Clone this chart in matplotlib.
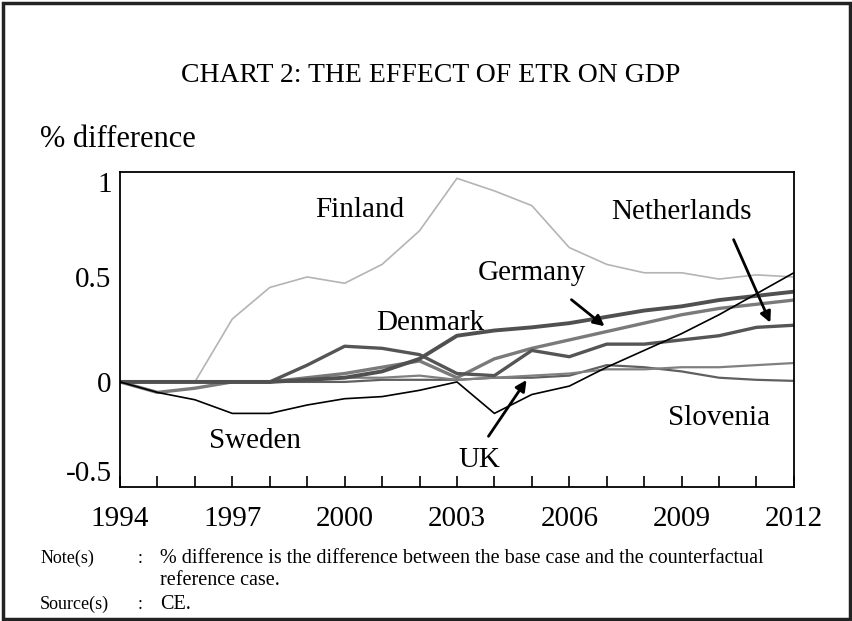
import numpy as np
import matplotlib
matplotlib.use("Agg")
import matplotlib.pyplot as plt
from matplotlib.patches import Rectangle

plt.rcParams['font.family'] = ['Liberation Serif', 'DejaVu Serif']

years = np.arange(1994, 2013)

finland     = [0, 0, 0, 0.30, 0.45, 0.50, 0.47, 0.56, 0.72, 0.97, 0.91, 0.84, 0.64, 0.56, 0.52, 0.52, 0.49, 0.51, 0.50]
denmark     = [0, 0, 0, 0, 0, 0.01, 0.02, 0.05, 0.11, 0.22, 0.245, 0.26, 0.28, 0.31, 0.34, 0.36, 0.39, 0.41, 0.43]
germany     = [0, -0.05, -0.03, 0, 0, 0.02, 0.04, 0.07, 0.10, 0.02, 0.11, 0.16, 0.20, 0.24, 0.28, 0.32, 0.35, 0.37, 0.39]
netherlands = [0, 0, 0, 0, 0, 0.08, 0.17, 0.16, 0.13, 0.04, 0.03, 0.15, 0.12, 0.18, 0.18, 0.20, 0.22, 0.26, 0.27]
sweden      = [0, -0.05, -0.085, -0.15, -0.15, -0.11, -0.08, -0.07, -0.04, 0.0, -0.15, -0.06, -0.02, 0.07, 0.15, 0.23, 0.32, 0.42, 0.52]
uk          = [0, 0, 0, 0, 0, 0.01, 0.02, 0.02, 0.03, 0.01, 0.02, 0.03, 0.04, 0.06, 0.06, 0.07, 0.07, 0.08, 0.09]
slovenia    = [0, 0, 0, 0, 0, 0, 0, 0.01, 0.01, 0.01, 0.02, 0.02, 0.03, 0.08, 0.07, 0.05, 0.02, 0.01, 0.005]

xtick_years = [1994, 1997, 2000, 2003, 2006, 2009, 2012]
ytick_vals = [-0.5, 0, 0.5, 1]
ytick_text = ['-0.5', '0', '0.5', '1']

fig = plt.figure(figsize=(8.53, 6.21), dpi=100)
ax = fig.add_axes([0.1407, 0.216, 0.79, 0.507])

# series
ax.plot(years, finland, color='#b4b4b4', lw=1.2)
ax.plot(years, slovenia, color='#606060', lw=1.6)
ax.plot(years, uk, color='#808080', lw=1.6)
ax.plot(years, germany, color='#7a7a7a', lw=2.4)
ax.plot(years, netherlands, color='#555555', lw=2.4)
ax.plot(years, denmark, color='#505050', lw=2.8)
ax.plot(years, sweden, color='black', lw=1.2)

ax.set_xlim(1994, 2012)
ax.set_ylim(-0.5, 1)
ax.set_xticks(xtick_years)
ax.set_xticks(years, minor=True)
ax.tick_params(axis='x', which='both', direction='in', length=8, width=1.2, labelsize=21, pad=14)
ax.set_yticks(ytick_vals)
ax.set_yticklabels(ytick_text)
ax.tick_params(axis='y', length=0, labelsize=21, pad=6)
ylabs = ax.get_yticklabels()
ylabs[0].set_va('bottom')
ylabs[-1].set_va('top')
for s in ax.spines.values():
    s.set_linewidth(1.3)

# labels on the chart
lab = dict(fontsize=21, ha='center', va='center')
ax.text(2000.4, 0.82, 'Finland', **lab)
ax.text(2009.0, 0.81, 'Netherlands', **lab)
ax.text(2005.0, 0.52, 'Germany', **lab)
ax.text(2002.3, 0.28, 'Denmark', **lab)
ax.text(1997.6, -0.28, 'Sweden', **lab)
ax.text(2003.6, -0.37, 'UK', **lab)
ax.text(2010.0, -0.17, 'Slovenia', **lab)

arr = dict(arrowstyle='-|>', lw=2, color='black', mutation_scale=16)
ax.annotate('', xy=(2007.0, 0.257), xytext=(2006.0, 0.40), arrowprops=arr)
ax.annotate('', xy=(2011.4, 0.27), xytext=(2010.36, 0.69), arrowprops=arr)
ax.annotate('', xy=(2004.9, 0.02), xytext=(2003.8, -0.27), arrowprops=arr)

fig.text(0.505, 0.879, 'CHART 2: THE EFFECT OF ETR ON GDP', fontsize=20, ha='center', va='center')
fig.text(0.047, 0.775, '% difference', fontsize=22, ha='left', va='center')

note = dict(fontsize=13, va='center')
fig.text(0.047, 0.101, 'Note(s)', **note)
fig.text(0.161, 0.101, ':', **note)
fig.text(0.188, 0.101, '% difference is the difference between the base case and the counterfactual',
         fontsize=14.5, va='center')
fig.text(0.188, 0.066, 'reference case.', fontsize=14.5, va='center')
fig.text(0.047, 0.027, 'Source(s)', **note)
fig.text(0.161, 0.027, ':', **note)
fig.text(0.188, 0.027, 'CE.', fontsize=14.5, va='center')

fig.patches.append(Rectangle((0.004, 0.003), 0.992, 0.992, transform=fig.transFigure,
                             fill=False, edgecolor='#222222', lw=2.5))

fig.savefig('out.png', dpi=100)
